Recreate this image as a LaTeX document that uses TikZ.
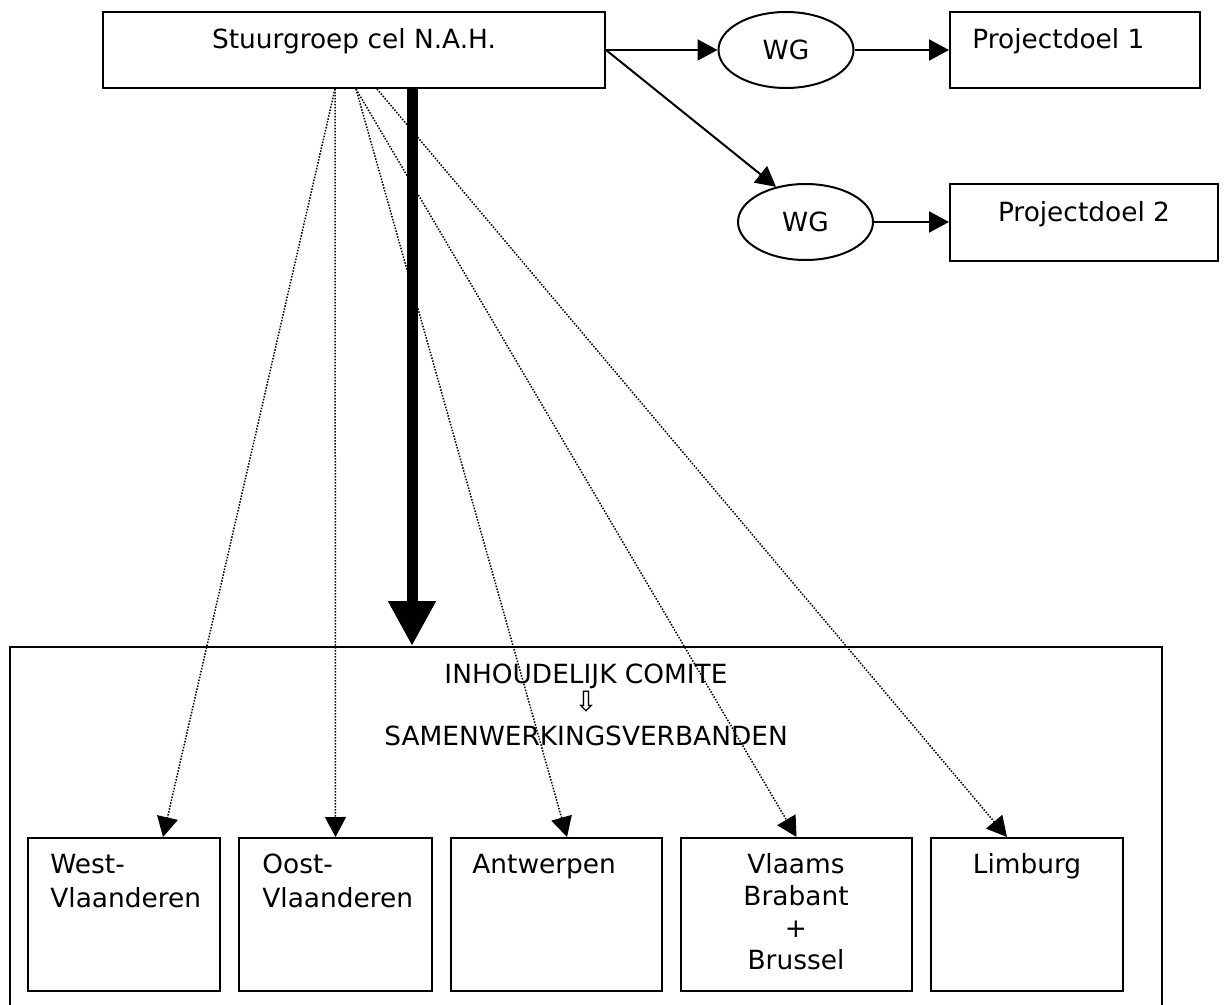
\documentclass[tikz,border=0pt]{standalone}
\usepackage{fontspec}
\setmainfont{DejaVu Sans}
\usetikzlibrary{arrows.meta,shapes.geometric}
\tikzset{
  box/.style={draw,line width=1pt,inner sep=0pt},
  txt/.style={inner sep=0pt,font=\fontsize{13.2}{17}\selectfont},
  wg/.style={draw,ellipse,line width=1pt,inner sep=0pt,minimum width=67.5pt,minimum height=38pt,font=\fontsize{13.2}{17}\selectfont},
  tip/.style={-{Triangle[length=10pt,width=10.5pt]}},
  link/.style={tip,line width=1pt},
  dots/.style={tip,line width=0.75pt,dash pattern=on 0.75pt off 0.75pt},
  main/.style={line width=5.5pt,-{Triangle[length=22.5pt,width=22.5pt]}}
}
\begin{document}
\begin{tikzpicture}[x=0.5pt,y=-0.5pt]
\useasboundingbox (0,0) rectangle (1226,1005);
\clip (0,0) rectangle (1226,1005);
\node[box,minimum width=251pt,minimum height=38pt] (stuur) at (354,50) {};
\node[txt,anchor=base] (tstuur) at (354,49) {Stuurgroep cel N.A.H.};
\node[wg] (wg1) at (786,50) {WG};
\node[wg] (wg2) at (805.5,222) {WG};
\node[box,minimum width=125pt,minimum height=38pt] (doel1) at (1075,50) {};
\node[txt,anchor=base west] (tdoel1) at (972,49) {Projectdoel 1};
\node[box,minimum width=134pt,minimum height=38.5pt] (doel2) at (1084,222.5) {};
\node[txt,anchor=base] (tdoel2) at (1084,222) {Projectdoel 2};
\node[box,minimum width=576pt,minimum height=200pt,anchor=north] (comite) at (586,646) {};
\node[txt,anchor=base] (tcomite) at (586,683) {INHOUDELIJK COMITE};
\node[txt,font=\fontsize{14}{16}\selectfont] (pijl) at (586,702) {⇩};
\node[txt,anchor=base] (tsamen) at (586,745) {SAMENWERKINGSVERBANDEN};
\node[box,minimum width=96pt,minimum height=76.5pt] (west) at (124,914.5) {};
\node[box,minimum width=96.5pt,minimum height=76.5pt] (oost) at (335.5,914.5) {};
\node[box,minimum width=105.5pt,minimum height=76.5pt] (antw) at (556.5,914.5) {};
\node[box,minimum width=115.5pt,minimum height=76.5pt] (vlaams) at (796.5,914.5) {};
\node[box,minimum width=96pt,minimum height=76.5pt] (limb) at (1027,914.5) {};
\node[txt,align=left,anchor=base west] (twest) at (50,907) {West-\\Vlaanderen};
\node[txt,align=left,anchor=base west] (toost) at (262,907) {Oost-\\Vlaanderen};
\node[txt,anchor=base west] (tantw) at (472,873) {Antwerpen};
\node[txt,align=center,anchor=base,font=\fontsize{13.2}{16}\selectfont] (tvlaams) at (796,969) {Vlaams\\Brabant\\+\\Brussel};
\node[txt,anchor=base] (tlimb) at (1027,873) {Limburg};
\draw[link] (stuur.east) -- (wg1);
\draw[link] (stuur.east) -- (wg2.130);
\draw[link] (wg1) -- (doel1);
\draw[link] (wg2.east) -- (wg2.east -| doel2.west);
\draw[dots] ([xshift=-9.5pt]stuur.south) -- ([xshift=19.5pt]west.north);
\draw[dots] ([xshift=-9.5pt]stuur.south) -- (oost.north);
\draw[dots] ([xshift=1pt]stuur.south) -- ([xshift=5.25pt]antw.north);
\draw[dots] ([xshift=1pt]stuur.south) -- (vlaams.north);
\draw[dots] ([xshift=11.5pt]stuur.south) -- ([xshift=-10pt]limb.north);
\draw[main] ([xshift=29pt]stuur.south) -- ([xshift=29pt]stuur.south |- comite.north);
\end{tikzpicture}
\end{document}
